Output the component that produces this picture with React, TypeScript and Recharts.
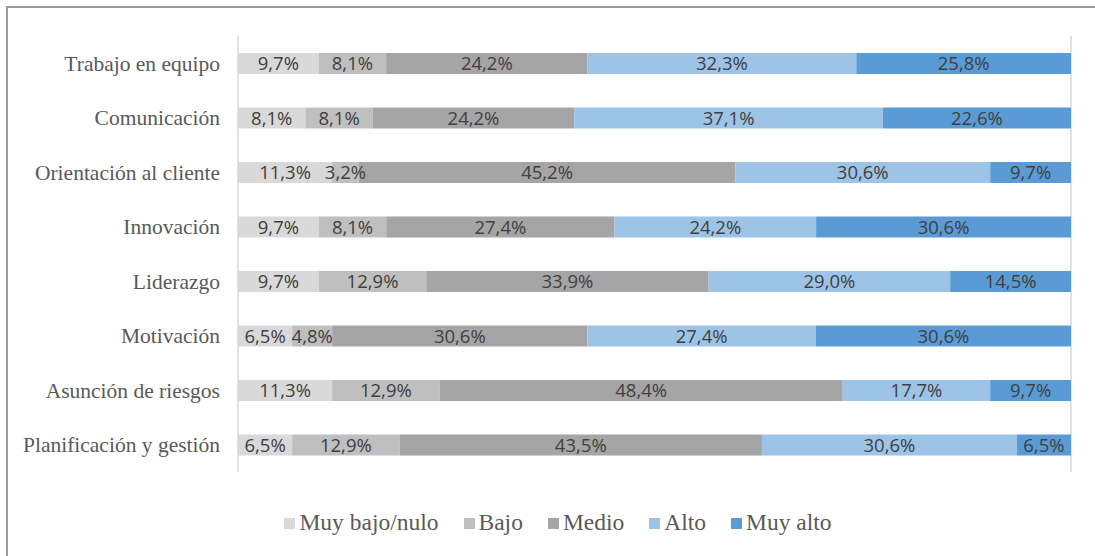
import React from 'react';
import { BarChart, Bar, XAxis, YAxis, CartesianGrid, Legend, LabelList } from 'recharts';

const categories = [
  'Trabajo en equipo',
  'Comunicación',
  'Orientación al cliente',
  'Innovación',
  'Liderazgo',
  'Motivación',
  'Asunción de riesgos',
  'Planificación y gestión',
];

const muyBajo = [9.7, 8.1, 11.3, 9.7, 9.7, 6.5, 11.3, 6.5];
const bajo = [8.1, 8.1, 3.2, 8.1, 12.9, 4.8, 12.9, 12.9];
const medio = [24.2, 24.2, 45.2, 27.4, 33.9, 30.6, 48.4, 43.5];
const alto = [32.3, 37.1, 30.6, 24.2, 29.0, 27.4, 17.7, 30.6];
const muyAlto = [25.8, 22.6, 9.7, 30.6, 14.5, 30.6, 9.7, 6.5];

const seriesNames = ['Muy bajo/nulo', 'Bajo', 'Medio', 'Alto', 'Muy alto'];
const seriesColors = ['#d9d9d9', '#bfbfbf', '#a5a5a5', '#9dc3e6', '#5b9bd5'];
const xTicks = [0, 0.1, 0.2, 0.3, 0.4, 0.5, 0.6, 0.7, 0.8, 0.9, 1];

const seriesValues = [muyBajo, bajo, medio, alto, muyAlto];
const keys = ['s0', 's1', 's2', 's3', 's4'];

const data = categories.map((name, i) => {
  const row: Record<string, string | number> = { name };
  keys.forEach((k, j) => {
    row[k] = seriesValues[j][i];
  });
  return row;
});

const fmt = (v: any) => Number(v).toFixed(1).replace('.', ',') + '%';

const LegendContent = () => {
  return (
    <div
      style={{
        display: 'flex',
        justifyContent: 'center',
        alignItems: 'center',
        paddingLeft: 21,
        fontFamily: '"Liberation Serif", "Times New Roman", serif',
        fontSize: 23.5,
        color: '#595959',
        lineHeight: '28px',
      }}
    >
      {seriesNames.map((n, i) => (
        <div
          key={n}
          style={{ display: 'flex', alignItems: 'center', marginLeft: i === 0 ? 0 : 25 }}
        >
          <div style={{ width: 11, height: 11, background: seriesColors[i], marginRight: 4, marginTop: 3 }} />
          <span>{n}</span>
        </div>
      ))}
    </div>
  );
};

export default function App() {
  return (
    <div
      style={{
        position: 'fixed',
        left: 0,
        top: 0,
        width: 1095,
        height: 556,
        overflow: 'hidden',
        background: '#ffffff',
      }}
    >
      <div
        style={{
          position: 'absolute',
          left: 6,
          top: 6,
          width: 2000,
          height: 2000,
          border: '2px solid #9a9a9a',
        }}
      />
      <div style={{ position: 'absolute', left: 0, top: 0 }}>
        <BarChart
          width={1095}
          height={556}
          data={data}
          layout="vertical"
          stackOffset="expand"
          barSize={21}
          margin={{ top: 36, right: 24, bottom: 83, left: 0 }}
        >
          <CartesianGrid horizontal={false} vertical={true} stroke="#d9d9d9" strokeWidth={1.5} />
          <XAxis
            type="number"
            domain={[0, 1]}
            ticks={xTicks}
            tick={false}
            axisLine={false}
            tickLine={false}
            height={1}
          />
          <YAxis
            type="category"
            dataKey="name"
            width={238}
            axisLine={false}
            tickLine={false}
            tickSize={0}
            tickMargin={18}
            interval={0}
            tick={{
              fill: '#595959',
              fontSize: 21.5,
              fontFamily: '"Liberation Serif", "Times New Roman", serif',
            }}
          />
          <Legend
            verticalAlign="middle"
            align="center"
            layout="horizontal"
            wrapperStyle={{ top: 508, left: 0, width: 1095 }}
            content={<LegendContent />}
          />
          {keys.map((k, j) => (
            <Bar
              key={k}
              dataKey={k}
              name={seriesNames[j]}
              stackId="a"
              fill={seriesColors[j]}
              isAnimationActive={false}
            >
              <LabelList
                dataKey={k}
                position="center"
                formatter={fmt}
                fill="#404040"
                fontSize={18.5}
                fontFamily='"Open Sans", sans-serif'
              />
            </Bar>
          ))}
        </BarChart>
      </div>
    </div>
  );
}
